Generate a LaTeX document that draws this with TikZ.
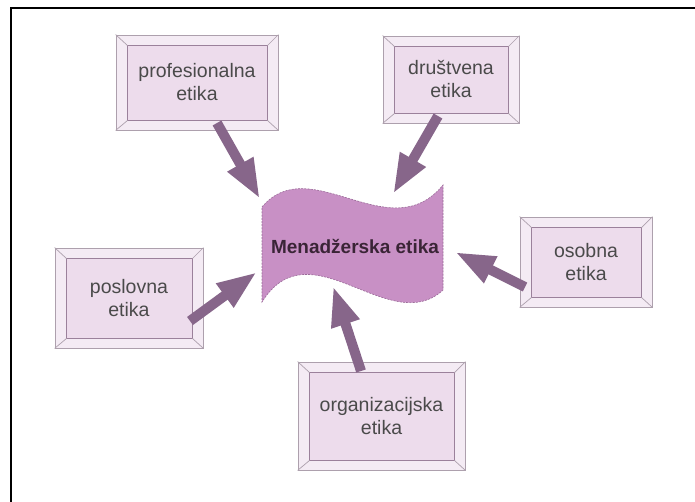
\documentclass[tikz,border=0pt]{standalone}
\usepackage{fontspec}
\setmainfont{Liberation Sans}
\usetikzlibrary{arrows.meta,calc}
\definecolor{boxfill}{HTML}{EDDCEC}
\definecolor{bevellight}{HTML}{F4EBF4}
\definecolor{outerline}{HTML}{ADA0AD}
\definecolor{innerline}{HTML}{9B819B}
\definecolor{waveFill}{HTML}{C890C5}
\definecolor{waveLine}{HTML}{9A6A98}
\definecolor{arrowcol}{HTML}{87668A}
\definecolor{boxtext}{HTML}{4A4A4A}
\definecolor{maintext}{HTML}{3A2436}
\tikzset{
  bevelbox/.style={rectangle, draw=outerline, line width=0.8pt, fill=bevellight, inner sep=0pt, align=center,
    text=boxtext, font=\fontsize{19.5}{23}\selectfont},
  innerrect/.style={draw=innerline, line width=1pt, fill=boxfill},
  bevelline/.style={draw=outerline, line width=0.7pt},
  bigarrow/.style={draw=arrowcol, line width=10pt, -{Triangle[length=40pt,width=27pt]}},
}
\newcommand{\mybevel}[8]{%
  \node[bevelbox, minimum width=#4-#2, minimum height=#5-#3] (#1) at ({(#2+#4)/2},{(#3+#5)/2}) {};
  \draw[innerrect] ($(#1.north west)+(12,11)$) rectangle ($(#1.south east)+(-11,-10)$);
  \draw[bevelline] (#1.north west) -- ++(12,11);
  \draw[bevelline] (#1.north east) -- ++(-11,11);
  \draw[bevelline] (#1.south west) -- ++(12,-10);
  \draw[bevelline] (#1.south east) -- ++(-11,-10);
  \node[bevelbox, draw=none, fill=none] (#1text) at ({(#2+#4)/2+#7},{(#3+#5)/2+#8}) {#6};
}
\begin{document}
\begin{tikzpicture}[x=1pt,y=-1pt]
\useasboundingbox (0,0) rectangle (695,502);
\fill[white] (0,0) rectangle (695,502);
% frame
\coordinate (fTL) at (11,8);
\coordinate (fTR) at (695,8);
\coordinate (fBL) at (11,502);
\draw[line width=2.5pt, black] (fBL) -- (fTL) -- (fTR);

% boxes
\mybevel{prof}{116}{35}{278}{130}{profesionalna\\etika}{0}{0}
\mybevel{drus}{383}{36}{519}{123}{društvena\\etika}{0}{0}
\mybevel{posl}{55}{248}{203}{348}{poslovna\\etika}{0}{0}
\mybevel{orga}{298}{362}{465}{470}{organizacijska\\etika}{0}{0}
\mybevel{osob}{520}{217}{652}{307}{osobna\\etika}{0}{0}

% central wave
\draw[fill=waveFill, draw=waveLine, line width=0.6pt, dash pattern=on 2pt off 1.2pt]
  (262,207) .. controls (310,150) and (390,250) .. (443,185)
  -- (443,290)
  .. controls (390,339) and (310,225) .. (262,302) -- cycle;
\node[font=\bfseries\fontsize{19}{22}\selectfont, text=maintext] (main) at (355,247) {Menadžerska etika};

% arrow coordinates
\coordinate (s1) at (217,123); \coordinate (t1) at (260,199);
\coordinate (s2) at (438,116); \coordinate (t2) at (393,194);
\coordinate (s3) at (525,287); \coordinate (t3) at (455,252);
\coordinate (s4) at (190,321); \coordinate (t4) at (257,272);
\coordinate (s5) at (361,371); \coordinate (t5) at (333,286);

\draw[bigarrow] (s1) -- (t1);
\draw[bigarrow] (s2) -- (t2);
\draw[bigarrow] (s3) -- (t3);
\draw[bigarrow] (s4) -- (t4);
\draw[bigarrow] (s5) -- (t5);
\end{tikzpicture}
\end{document}
